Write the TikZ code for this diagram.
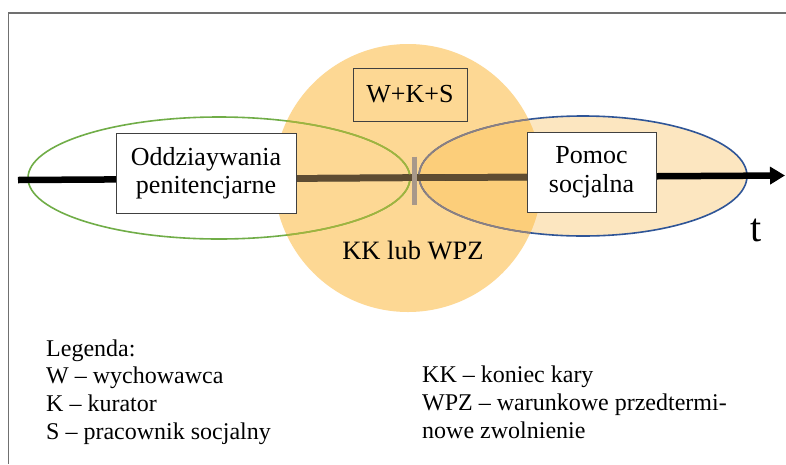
\documentclass[tikz,border=0pt]{standalone}
\usepackage{fontspec}
\setmainfont{Liberation Serif}
\usetikzlibrary{arrows.meta}
\definecolor{circ}{RGB}{253,216,148}
\definecolor{overlapc}{RGB}{252,206,122}
\definecolor{bluefill}{RGB}{252,230,192}
\definecolor{greenline}{RGB}{112,173,71}
\definecolor{greenin}{RGB}{160,180,62}
\definecolor{blueline}{RGB}{47,85,151}
\definecolor{bluein}{RGB}{140,128,130}
\definecolor{brownline}{RGB}{94,76,50}
\definecolor{tickc}{RGB}{168,152,138}
\definecolor{boxgray}{RGB}{64,64,64}
\definecolor{framegray}{RGB}{112,112,112}
\begin{document}
\begin{tikzpicture}[x=1pt,y=-1pt,
  box/.style={draw=boxgray, line width=0.9pt, fill=white, inner sep=0pt, align=center, font=\fontsize{26}{28.5}\selectfont},
  legend/.style={anchor=base west, inner sep=0pt, font=\fontsize{24}{28}\selectfont},
  ell/.style={line width=1.6pt}]
\useasboundingbox (0,0) rectangle (786,464);
\fill[white] (0,0) rectangle (786,464);
\draw[framegray, line width=1.3pt] (786,13) -- (8.5,13) -- (8.5,464);

\coordinate (cc) at (408,178);
\coordinate (gc) at (219,178);
\coordinate (bc) at (583,176);
\coordinate (tstart) at (18,180);
\coordinate (tend) at (785,175.5);
\coordinate (tktop) at (414.5,156.5);
\coordinate (tkbot) at (414.5,205);

\fill[bluefill] (bc) ellipse [x radius=164, y radius=60];
\fill[circ] (cc) circle [radius=134];
\begin{scope}
  \clip (cc) circle [radius=134];
  \fill[overlapc] (bc) ellipse [x radius=164, y radius=60];
\end{scope}

\draw[ell, greenline] (gc) ellipse [x radius=191, y radius=61];
\draw[ell, blueline] (bc) ellipse [x radius=164, y radius=60];
\draw[line width=6.5pt, -{Triangle[length=15pt,width=17pt]}] (tstart) -- (tend);

\begin{scope}
  \clip (cc) circle [radius=134];
  \draw[ell, greenin] (gc) ellipse [x radius=191, y radius=61];
  \draw[ell, bluein] (bc) ellipse [x radius=164, y radius=60];
  \draw[brownline, line width=6.5pt] (tstart) -- (tend);
\end{scope}

\draw[tickc, line width=4.5pt] (tktop) -- (tkbot);

\node[box, minimum width=180pt, minimum height=80pt] (odd) at (206,173) {Oddziaywania\\penitencjarne};
\node[box, minimum width=129pt, minimum height=80pt] (pom) at (591.5,172) {Pomoc\\socjalna};
\node[draw=boxgray, line width=0.9pt, inner sep=0pt, minimum width=114pt, minimum height=53pt, font=\fontsize{26}{28}\selectfont] (wks) at (410,94.5) {W+K+S};

\node[anchor=base, inner sep=0pt, font=\fontsize{26.5}{30}\selectfont] (kk) at (413,259) {KK lub WPZ};
\node[anchor=base, inner sep=0pt, font=\fontsize{40}{40}\selectfont] (t) at (756.5,241.7) {t};

\node[legend] (l0) at (46,356) {Legenda:};
\node[legend] (l1) at (46,383.5) {W -- wychowawca};
\node[legend] (l2) at (46,411.3) {K -- kurator};
\node[legend] (l3) at (46,439) {S -- pracownik socjalny};
\node[legend] (r1) at (422,382) {KK -- koniec kary};
\node[legend] (r2) at (422,410) {WPZ -- warunkowe przedtermi-};
\node[legend] (r3) at (422,438) {nowe zwolnienie};
\end{tikzpicture}
\end{document}
